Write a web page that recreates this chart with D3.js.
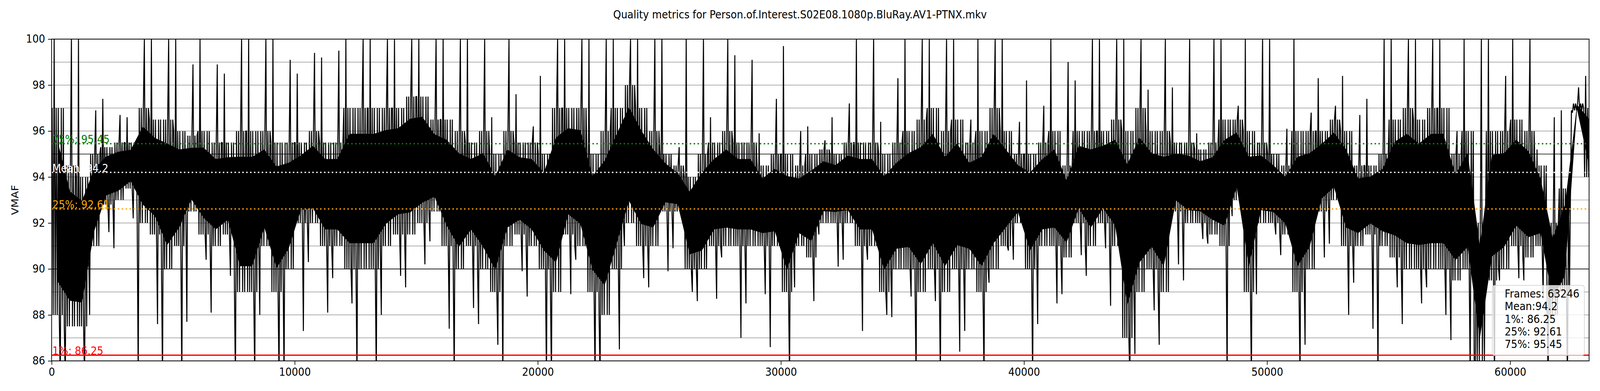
<!DOCTYPE html>
<html>
<head>
<meta charset="utf-8">
<script src="https://cdn.jsdelivr.net/npm/d3@7"></script>
<style>
  html, body { margin: 0; padding: 0; background: #fff; overflow: hidden; }
  svg { display: block; }
  text { font-family: "DejaVu Sans", sans-serif; }
</style>
</head>
<body>
<script>
// Data (per 500-frame bin)

var totalFrames = 63246;
var binSize = 500;

// spike top, dense band top, dense band bottom, spike bottom
var binHigh = [100, 100, 100, 96.9, 97.4, 96.7, 96.6, 100, 100, 100,
  100, 98.9, 100, 98.9, 98.5, 100, 100, 100, 100, 99.1,
  98.5, 99.4, 99.2, 99.5, 100, 100, 100, 100, 100, 100,
  100, 100, 100, 100, 100, 100, 96.6, 100, 97.6, 96.2,
  98.4, 100, 100, 100, 100, 100, 100, 100, 100, 100,
  100, 95.3, 100, 100, 96.6, 100, 99.3, 99.1, 95.9, 97.4,
  99.7, 96, 96.2, 95.6, 96.6, 97.2, 100, 100, 96.4, 98.3,
  100, 100, 100, 100, 100, 96.5, 100, 100, 100, 96.4,
  98.2, 97.1, 100, 99, 98.2, 100, 100, 100, 100, 100,
  97.8, 100, 97.9, 100, 95.9, 100, 100, 97.1, 100, 100,
  100, 96.1, 100, 96.8, 98.3, 97.1, 98.4, 96.7, 97.4, 100,
  100, 100, 100, 100, 100, 96, 100, 100, 100, 98.4,
  100, 100, 95.2, 96.6, 96.9, 97.9, 98.4];

var bandTop = [97, 94.5, 94, 95, 95.3, 95.5, 95.5, 97, 96.5, 96.5,
  96, 95.8, 96, 95.5, 95.5, 96, 96, 96, 95.5, 95.5,
  95.5, 96, 95.5, 95.5, 97, 97, 97, 97, 97, 97.5,
  97.5, 96.5, 96.5, 96, 95.5, 96, 95, 96, 95.5, 95.5,
  95, 97, 97, 97, 95, 96, 97, 98, 97, 96,
  95, 94.5, 94, 95, 95.5, 96, 95.5, 95.5, 94.5, 95,
  95, 94.5, 95, 95.2, 95, 95.5, 95.5, 95.5, 95, 95.5,
  96, 96.5, 97, 96, 96.5, 95.5, 96, 97, 96, 95,
  95, 95.5, 96, 94.5, 96, 96, 96, 96.5, 96, 97,
  96, 96, 95.5, 95.5, 95.2, 95.5, 96.5, 96.5, 96, 95.5,
  95, 94.5, 96, 96, 96, 96.5, 96, 94.5, 94.5, 95,
  96.5, 97, 96.5, 97, 97, 95, 96, 92, 96, 96,
  96.5, 96, 94.5, 92, 93.5, 97.2, 97];

var bandBottom = [88, 87.5, 87.5, 91, 92.8, 93, 93.5, 92, 91.5, 90,
  91, 92.5, 91.5, 91, 91.5, 89, 89, 91, 89, 90,
  92, 92, 91, 91, 90, 90, 90, 91, 91.5, 91.5,
  92, 92.5, 91, 90, 91, 90, 89, 91, 91.5, 91,
  90, 89, 91.5, 91, 89, 88, 90, 92, 91, 91,
  92.5, 92.5, 90, 90, 91, 91, 91, 91, 91, 91,
  89, 91, 90.5, 92, 92, 92, 91, 91, 89, 90,
  90, 89, 90, 89, 90, 90, 89, 90, 91, 92,
  90, 91, 91, 90.5, 92, 91, 92, 91, 87, 89,
  90, 89, 92.5, 92, 92, 91.5, 91, 93, 89, 92,
  92, 91.5, 89, 90, 92.5, 93, 91, 91, 91.5, 91,
  90.5, 90, 90, 90, 90, 89.5, 90, 86, 89.5, 90,
  91, 90.5, 91, 88, 89, 96.9, 94];

var binLow = [85, 85, 85, 88, 91.6, 90.9, 92.2, 85, 87.6, 85,
  85, 87.7, 90.4, 88.1, 89.7, 85, 85, 88, 85, 85,
  87.3, 90.3, 88.1, 89.6, 88.5, 85, 85, 88, 89.7, 89.2,
  90.2, 91.2, 87.4, 85, 88.3, 87.6, 86.7, 85, 89.9, 88.8,
  85, 85, 88.9, 90.4, 85, 85, 86.5, 91, 89.6, 89.2,
  89.9, 90.9, 89, 88.6, 88.7, 90.5, 87, 88.5, 88.9, 86.6,
  85, 89.2, 88.6, 91.5, 90.1, 90.4, 87.3, 90.4, 88, 87.9,
  88.8, 85, 88.6, 85, 86.4, 87.3, 85, 89.4, 90.8, 90.4,
  85, 87.6, 88.5, 88.9, 90.6, 89.7, 90.9, 88.4, 85, 86.3,
  88.2, 86.7, 90.2, 89.5, 91.3, 91.1, 85, 92.3, 85, 88.9,
  91.5, 90.6, 85, 86.7, 90.5, 91.1, 88, 89.4, 87.4, 85,
  89.2, 87.6, 88.5, 89.2, 88, 86.9, 85, 85, 85, 89.5,
  89.6, 89.5, 88.7, 85, 85, 96.8, 90.2];

// summary numbers
var mean = 94.2;
var p1 = 86.25;
var p25 = 92.61;
var p75 = 95.45;

var yTicks = [86, 88, 90, 92, 94, 96, 98, 100];
var yGrid = [87, 88, 89, 91, 92, 93, 94, 96, 97, 98, 99];
var yDark = [90, 95];
var xTicks = [0, 10000, 20000, 30000, 40000, 50000, 60000];

var fileName = "Person.of.Interest.S02E08.1080p.BluRay.AV1-PTNX.mkv";

/*
----- SVG -----
*/
var w = 4400;
var h = 1000;
var plotL = 142, plotR = 4370, plotT = 100, plotB = 923;

var svg = d3.select("body")
  .append("svg")
  .attr("viewBox", "0 0 " + w + " " + h)
  .attr("preserveAspectRatio", "none")
  .style("width", "100vw")
  .style("height", "100vh");

var x = d3.scaleLinear().domain([0, totalFrames]).range([plotL, plotR]);
var y = d3.scaleLinear().domain([86, 100]).range([plotB, plotT]);

svg.append("clipPath").attr("id", "plot")
  .append("rect")
  .attr("x", plotL).attr("y", plotT)
  .attr("width", plotR - plotL).attr("height", plotB - plotT);

// grid
svg.append("g").selectAll("line")
  .data(yGrid)
  .enter().append("line")
  .attr("x1", plotL).attr("x2", plotR)
  .attr("y1", function(d) { return y(d); })
  .attr("y2", function(d) { return y(d); })
  .attr("stroke", "#808080")
  .attr("stroke-width", 1.2);

svg.append("g").selectAll("line")
  .data(yDark)
  .enter().append("line")
  .attr("x1", plotL).attr("x2", plotR)
  .attr("y1", function(d) { return y(d); })
  .attr("y2", function(d) { return y(d); })
  .attr("stroke", "#000")
  .attr("stroke-width", 1.6);

/*
----- VMAF trace -----
*/
// each bin walks through its read values: band top/bottom with one spike up and one down,
// spike order flipped on odd bins so they don't line up like a comb
var points = [];
binHigh.forEach(function(d, i) {
  var f0 = i * binSize;
  var T = bandTop[i], B = bandBottom[i];
  var seq = (i % 2 === 0)
    ? [T, B, binHigh[i], B, T, B, T, B, binLow[i], T, B, T]
    : [B, binLow[i], T, B, T, B, T, binHigh[i], B, T, B, T];
  seq.forEach(function(v, k) {
    points.push([f0 + 20 + k * 42, v]);
  });
});

// solid middle of the band, kept inside the zigzag so its ragged edges stay visible
var inset = 0.16;
var band = bandTop.map(function(d, i) {
  var span = bandTop[i] - bandBottom[i];
  return { f: i * binSize + 250, top: bandTop[i] - inset * span, bot: bandBottom[i] + inset * span };
});

var trace = svg.append("g").attr("clip-path", "url(#plot)");

trace.append("path")
  .datum(band)
  .attr("d", d3.area()
    .x(function(d) { return x(d.f); })
    .y0(function(d) { return y(d.bot); })
    .y1(function(d) { return y(d.top); }))
  .attr("fill", "#000");

trace.append("path")
  .datum(points)
  .attr("d", d3.line()
    .x(function(d) { return x(d[0]); })
    .y(function(d) { return y(d[1]); }))
  .attr("fill", "none")
  .attr("stroke", "#000")
  .attr("stroke-width", 2.8)
  .attr("stroke-linejoin", "bevel");

/*
----- percentile lines -----
*/
var marks = [
  { v: p1, label: "1%: " + p1, color: "red", dash: null },
  { v: p25, label: "25%: " + p25, color: "orange", dash: "4,6.7" },
  { v: mean, label: "Mean: " + mean, color: "white", dash: "4,6.7" },
  { v: p75, label: "75%: " + p75, color: "green", dash: "4,6.7" }
];

marks.forEach(function(m) {
  svg.append("line")
    .attr("x1", plotL).attr("x2", plotR)
    .attr("y1", y(m.v)).attr("y2", y(m.v))
    .attr("stroke", m.color)
    .attr("stroke-width", 3.3)
    .attr("stroke-dasharray", m.dash);
  svg.append("text")
    .attr("x", plotL + 2)
    .attr("y", y(m.v) - 1)
    .attr("fill", m.color)
    .attr("font-size", 27.5)
    .text(m.label);
});

/*
----- axes -----
*/
var yAxis = svg.append("g")
  .attr("transform", "translate(" + plotL + ",0)")
  .call(d3.axisLeft(y).tickValues(yTicks).tickSize(10).tickPadding(8).tickFormat(d3.format("d")));
var xAxis = svg.append("g")
  .attr("transform", "translate(0," + plotB + ")")
  .call(d3.axisBottom(x).tickValues(xTicks).tickSize(10).tickPadding(8).tickFormat(d3.format("d")));

[yAxis, xAxis].forEach(function(a) {
  a.select(".domain").remove();
  a.selectAll("line").attr("stroke", "#000").attr("stroke-width", 1.8);
  a.selectAll("text").attr("font-size", 27.5).attr("fill", "#000")
    .attr("font-family", "DejaVu Sans");
});

svg.append("rect")
  .attr("x", plotL).attr("y", plotT)
  .attr("width", plotR - plotL).attr("height", plotB - plotT)
  .attr("fill", "none")
  .attr("stroke", "#000")
  .attr("stroke-width", 2);

svg.append("text")
  .attr("transform", "translate(43," + (plotT + plotB) / 2 + ") rotate(-90)")
  .attr("text-anchor", "middle")
  .attr("dominant-baseline", "middle")
  .attr("font-size", 27.5)
  .text("VMAF");

svg.append("text")
  .attr("x", w / 2)
  .attr("y", 47)
  .attr("text-anchor", "middle")
  .attr("font-size", 27.5)
  .text("Quality metrics for " + fileName);

/*
----- stats box -----
*/
var stats = ["Frames: " + totalFrames, "Mean:" + mean, "1%: " + p1, "25%: " + p25, "75%: " + p75];

svg.append("rect")
  .attr("x", 4104).attr("y", 730)
  .attr("width", 253).attr("height", 179)
  .attr("rx", 6)
  .attr("fill", "#fff").attr("fill-opacity", 0.8)
  .attr("stroke", "#ccc").attr("stroke-width", 1.5);

svg.append("g").selectAll("text")
  .data(stats)
  .enter().append("text")
  .attr("x", 4138)
  .attr("y", function(d, i) { return 761 + i * 32.3; })
  .attr("font-size", 27.5)
  .text(function(d) { return d; });
</script>
</body>
</html>
